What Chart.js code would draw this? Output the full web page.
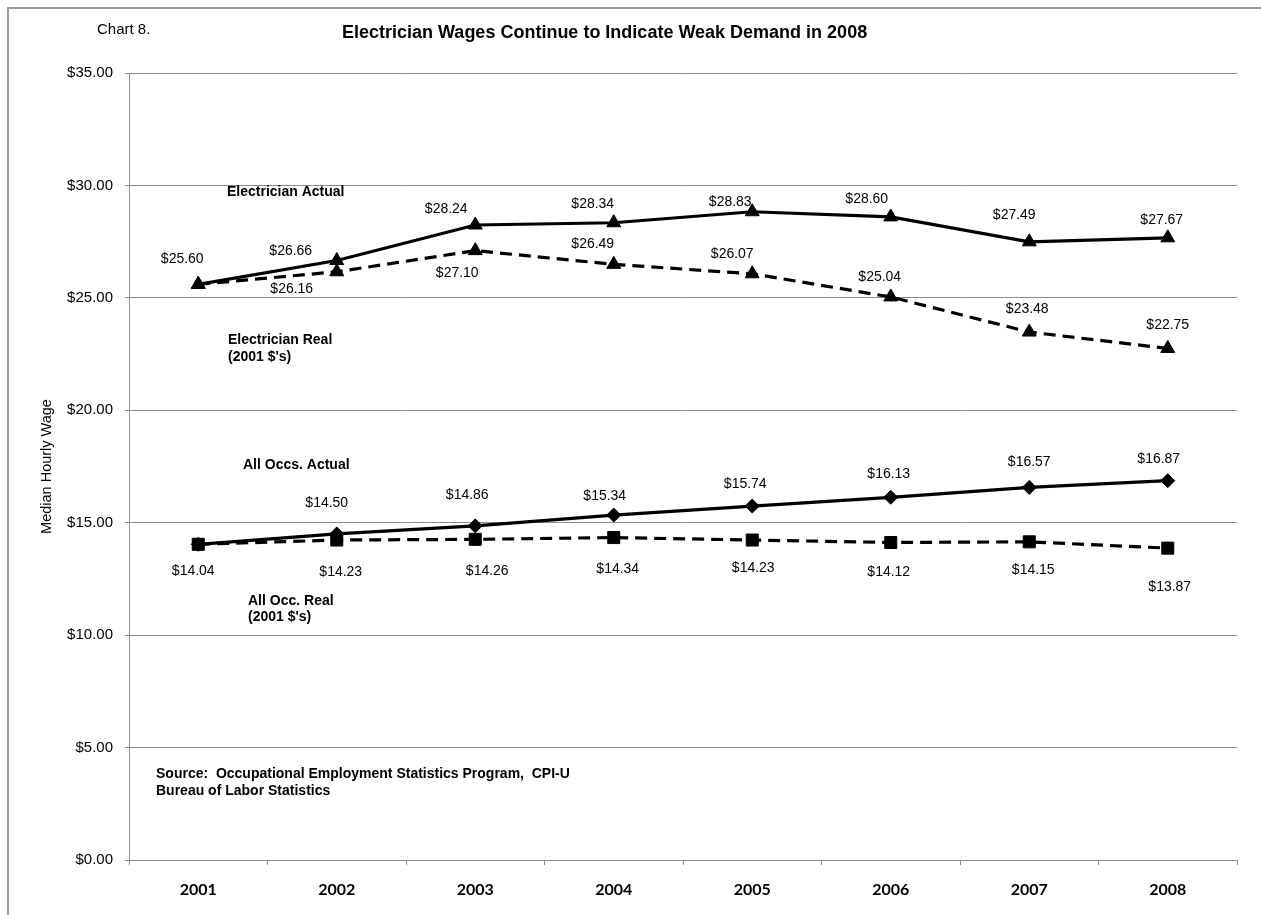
<!DOCTYPE html>
<html>
<head>
<meta charset="utf-8">
<title>Electrician Wages Continue to Indicate Weak Demand in 2008</title>
<script src="https://cdn.jsdelivr.net/npm/chart.js@4.4.1/dist/chart.umd.min.js"></script>
<style>
  html, body { margin: 0; padding: 0; background: #fff; }
  #wrap { width: 1261px; height: 915px; }
</style>
</head>
<body>
<div id="wrap"><canvas id="chart" width="1261" height="915"></canvas></div>
<script>
// Median hourly wages, 2001-2008
const years = ['2001', '2002', '2003', '2004', '2005', '2006', '2007', '2008'];
const electricianActual = [25.60, 26.66, 28.24, 28.34, 28.83, 28.60, 27.49, 27.67];
const electricianReal   = [25.60, 26.16, 27.10, 26.49, 26.07, 25.04, 23.48, 22.75];
const allOccsActual     = [14.04, 14.50, 14.86, 15.34, 15.74, 16.13, 16.57, 16.87];
const allOccsReal       = [14.04, 14.23, 14.26, 14.34, 14.23, 14.12, 14.15, 13.87];
const yMin = 0, yMax = 35, yStep = 5;

const money = v => '$' + Number(v).toFixed(2);

// Where each value label sits relative to its point (dx, dy in px); null = no label
const labelNudge = [
  [[-16,-25],[-46,-9],[-29,-16],[-21,-19],[-22,-10],[-24,-18],[-15,-27],[-6,-18]],
  [null,[-45,17],[-18,23],[-21,-20],[-20,-20],[-11,-20],[-2,-23],[0,-23]],
  [null,[-10,-31],[-8,-31],[-9,-19],[-7,-22],[-2,-23],[0,-25],[-9,-22]],
  [[-5,27],[4,32],[12,32],[4,32],[1,28],[-2,30],[4,28],[2,39]]
];

const GRID = '#8c8c8c';
const SANS = '"Liberation Sans", Arial, sans-serif';

// Outer frame of the chart sheet
const framePlugin = {
  id: 'frame',
  beforeDraw(chart) {
    const ctx = chart.ctx;
    ctx.save();
    ctx.fillStyle = '#fff';
    ctx.fillRect(0, 0, chart.width, chart.height);
    ctx.strokeStyle = '#9a9a9a';
    ctx.lineWidth = 2;
    ctx.strokeRect(8, 8, chart.width + 20, chart.height + 20);
    ctx.restore();
  }
};

// Value labels next to every point
const valueLabels = {
  id: 'valueLabels',
  afterDatasetsDraw(chart) {
    const ctx = chart.ctx;
    ctx.save();
    ctx.font = '14px ' + SANS;
    ctx.fillStyle = '#000';
    ctx.textAlign = 'center';
    ctx.textBaseline = 'middle';
    chart.data.datasets.forEach((ds, di) => {
      const meta = chart.getDatasetMeta(di);
      meta.data.forEach((pt, i) => {
        const n = labelNudge[di][i];
        if (!n) return;
        ctx.fillText(money(ds.data[i]), pt.x + n[0], pt.y + n[1]);
      });
    });
    ctx.restore();
  }
};

// Titles, series captions and source note
const captions = {
  id: 'captions',
  afterDraw(chart) {
    const ctx = chart.ctx;
    ctx.save();
    ctx.fillStyle = '#000';
    ctx.textBaseline = 'middle';
    ctx.textAlign = 'left';
    ctx.font = '15px ' + SANS;
    ctx.fillText('Chart 8.', 97, 30);
    ctx.font = 'bold 18px ' + SANS;
    ctx.fillText('Electrician Wages Continue to Indicate Weak Demand in 2008', 342, 33);

    ctx.font = 'bold 14px ' + SANS;
    ctx.fillText('Electrician Actual', 227, 192);
    ctx.fillText('Electrician Real', 228, 340);
    ctx.fillText("(2001 $'s)", 228, 357);
    ctx.fillText('All Occs. Actual', 243, 465);
    ctx.fillText('All Occ. Real', 248, 601);
    ctx.fillText("(2001 $'s)", 248, 617);
    ctx.fillText('Source:  Occupational Employment Statistics Program,  CPI-U', 156, 774);
    ctx.fillText('Bureau of Labor Statistics', 156, 791);
    ctx.restore();
  }
};

const lineStyle = (data, dashed, pointStyle, radius) => ({
  data,
  borderColor: '#000',
  backgroundColor: '#000',
  borderWidth: 3.2,
  borderDash: dashed ? [12, 7] : [],
  pointStyle,
  pointRadius: radius,
  pointBorderWidth: 1,
  pointBackgroundColor: '#000',
  pointBorderColor: '#000',
  tension: 0,
  fill: false
});

new Chart(document.getElementById('chart'), {
  type: 'line',
  data: {
    labels: years,
    datasets: [
      Object.assign({ label: 'Electrician Actual' }, lineStyle(electricianActual, false, 'triangle', 8)),
      Object.assign({ label: "Electrician Real (2001 $'s)" }, lineStyle(electricianReal, true, 'triangle', 8)),
      Object.assign({ label: 'All Occs. Actual' }, lineStyle(allOccsActual, false, 'rectRot', 7)),
      Object.assign({ label: "All Occ. Real (2001 $'s)" }, lineStyle(allOccsReal, true, 'rect', 8.5))
    ]
  },
  options: {
    responsive: false,
    animation: false,
    events: [],
    layout: { padding: { top: 73, right: 24, bottom: 0, left: 0 } },
    plugins: {
      legend: { display: false },
      tooltip: { enabled: false },
      title: { display: false }
    },
    scales: {
      x: {
        type: 'category',
        offset: true,
        grid: { display: true, drawOnChartArea: false, drawTicks: true, tickLength: 5, offset: true, color: GRID },
        border: { display: true, color: GRID, width: 1 },
        ticks: {
          color: '#000',
          padding: 15,
          maxRotation: 0,
          font: { family: 'Lato, "Open Sans", sans-serif', size: 16, weight: 'bold' }
        },
        afterFit(scale) { scale.height = 55; }
      },
      y: {
        min: yMin,
        max: yMax,
        grid: { color: GRID, tickLength: 4, lineWidth: 1 },
        border: { display: true, color: GRID, width: 1 },
        ticks: {
          stepSize: yStep,
          color: '#000',
          padding: 12,
          font: { family: SANS, size: 15 },
          callback: v => money(v)
        },
        title: {
          display: true,
          text: 'Median Hourly Wage',
          color: '#000',
          font: { family: SANS, size: 14.5 },
          padding: { top: 38, bottom: 0 }
        },
        afterFit(scale) { scale.width = 129; }
      }
    }
  },
  plugins: [framePlugin, valueLabels, captions]
});
</script>
</body>
</html>
